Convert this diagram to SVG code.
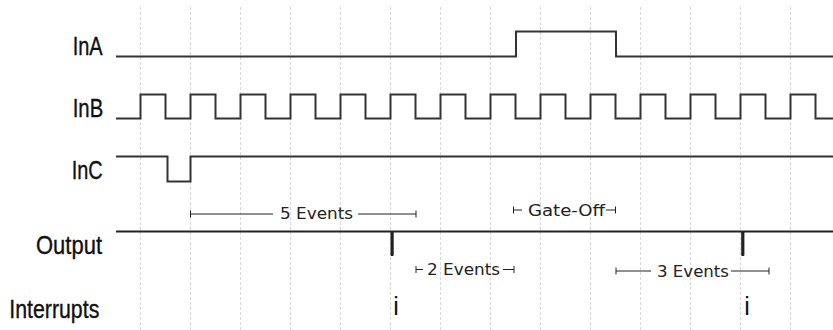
<svg xmlns="http://www.w3.org/2000/svg" width="833" height="330" viewBox="0 0 833 330">
<style>
.grid{stroke:#d8d8d8;stroke-width:1;stroke-dasharray:3,2;fill:none}
.sig{stroke:#333;stroke-width:2;fill:none;stroke-linejoin:miter}
.out{stroke:#222;stroke-width:2;fill:none;stroke-linejoin:round}
.lbl{font-family:"Liberation Sans",Arial,sans-serif;font-size:25px;fill:#111;stroke:#111;stroke-width:0.35}
.ann{stroke:#222;stroke-width:1.2;fill:none}
.tick{stroke:#222;stroke-width:1;fill:none}
.anntxt{font-family:"DejaVu Sans",sans-serif;font-size:16px;fill:#222}
</style>
<rect width="833" height="330" fill="#fff"/>
<g id="grid">
<path class="grid" d="M140.5 7V330M190.5 7V330M240.5 7V330M290.5 7V330M340.5 7V330M390.5 7V330M440.5 7V330M490.5 7V330M540.5 7V330M590.5 7V330M640.5 7V330M690.5 7V330M740.5 7V330M790.5 7V330"/>
</g>
<g id="InA">
<text class="lbl" x="72.7" y="55" textLength="30" lengthAdjust="spacingAndGlyphs">InA</text>
<path class="sig" d="M116 56.5H516V31.5H616V56.5H833"/>
</g>
<g id="InB">
<text class="lbl" x="72.7" y="117.3" textLength="30.5" lengthAdjust="spacingAndGlyphs">InB</text>
<path class="sig" d="M116 118.5H140.5V94.5H165.5V118.5H190.5V94.5H215.5V118.5H240.5V94.5H265.5V118.5H290.5V94.5H315.5V118.5H340.5V94.5H365.5V118.5H390.5V94.5H415.5V118.5H440.5V94.5H465.5V118.5H490.5V94.5H515.5V118.5H540.5V94.5H565.5V118.5H590.5V94.5H615.5V118.5H640.5V94.5H665.5V118.5H690.5V94.5H715.5V118.5H740.5V94.5H765.5V118.5H790.5V94.5H815.5V118.5H833"/>
</g>
<g id="InC">
<text class="lbl" x="71.7" y="179.3" textLength="31" lengthAdjust="spacingAndGlyphs">InC</text>
<path class="sig" d="M116 156.5H167.5V181.5H190.5V156.5H833"/>
</g>
<g id="Output">
<text class="lbl" x="36" y="254" textLength="66" lengthAdjust="spacingAndGlyphs">Output</text>
<path class="out" d="M116 231.5H391.5V255H392.7V231.5H742.2V255H743.4V231.5H833"/>
</g>
<g id="Interrupts">
<text class="lbl" x="9.3" y="318.3" textLength="90" lengthAdjust="spacingAndGlyphs">Interrupts</text>
<text class="lbl" x="396" y="315" text-anchor="middle" style="stroke-width:0">i</text>
<text class="lbl" x="747" y="315" text-anchor="middle" style="stroke-width:0">i</text>
</g>
<g id="connectors">
<g id="ann-5events">
<path class="tick" d="M190.5 210.5V217.5M416 210.5V217.5"/>
<path class="ann" d="M190.5 214H273M358 214H416"/>
<text class="anntxt" x="280" y="219" textLength="73" lengthAdjust="spacingAndGlyphs">5 Events</text>
</g>
<g id="ann-gateoff">
<path class="tick" d="M513.5 206.5V213.5M615.5 206.5V213.5"/>
<path class="ann" d="M513.5 210H522M606 210H615.5"/>
<text class="anntxt" x="528" y="215.5" textLength="77" lengthAdjust="spacingAndGlyphs">Gate-Off</text>
</g>
<g id="ann-2events">
<path class="tick" d="M416 266V273M514 266V273"/>
<path class="ann" d="M416 269.5H423M503 269.5H514"/>
<text class="anntxt" x="427" y="275" textLength="73" lengthAdjust="spacingAndGlyphs">2 Events</text>
</g>
<g id="ann-3events">
<path class="tick" d="M616 267.5V274.5M769 267.5V274.5"/>
<path class="ann" d="M616 271H651M731 271H769"/>
<text class="anntxt" x="657" y="276.5" textLength="72" lengthAdjust="spacingAndGlyphs">3 Events</text>
</g>
</g>
</svg>
